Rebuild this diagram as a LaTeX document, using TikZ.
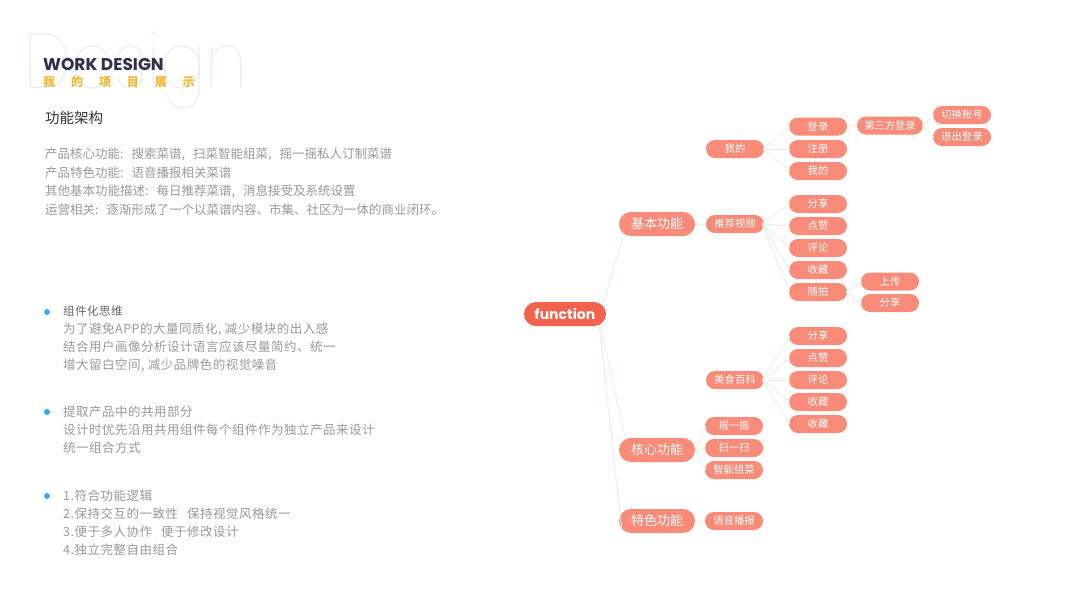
\documentclass[tikz,border=0pt]{standalone}
\usepackage{fontspec}
\newfontfamily\cjk{Noto Sans CJK SC}
\newfontfamily\cjksp{Noto Sans CJK SC}[LetterSpace=4]
\newfontfamily\pop{Poppins}
\IfFontExistsTF{Poppins Thin}{\newfontfamily\thinfont{Poppins Thin}}{\newfontfamily\thinfont{Poppins}}
\definecolor{salmon}{HTML}{F98B78}
\definecolor{fnred}{HTML}{F2624C}
\definecolor{linkc}{HTML}{DDF3EE}
\definecolor{navy}{HTML}{2D3047}
\definecolor{gold}{HTML}{F6B62F}
\definecolor{bodyg}{HTML}{9A9A9A}
\definecolor{titleg}{HTML}{333333}
\definecolor{dotblue}{HTML}{3DA5F4}
\definecolor{ghost}{HTML}{E3F0FC}
\newcommand{\pc}{,\hspace{8pt}}
\newcommand{\pcol}{:\hspace{8pt}}
\tikzset{
  lvlone/.style={rounded corners=12pt, fill=salmon, minimum width=76pt, minimum height=24pt, text=white, font=\cjk\fontsize{13}{13}\selectfont, inner sep=0pt},
  leaf/.style={rounded corners=9pt, fill=salmon, minimum width=58pt, minimum height=18pt, text=white, font=\cjk\fontsize{10.3}{10.3}\selectfont, inner sep=0pt},
  link/.style={draw=linkc, line width=0.9pt},
  para/.style={anchor=west, inner sep=0pt, text=bodyg, font=\cjk\fontsize{12.5}{12.5}\selectfont},
  btext/.style={anchor=west, inner sep=0pt, text=bodyg, font=\cjksp\fontsize{12.5}{12.5}\selectfont},
  bhead/.style={anchor=west, inner sep=0pt, text=black!60, font=\cjksp\fontsize{11.5}{11.5}\selectfont},
  bdot/.style={circle, fill=dotblue, inner sep=0pt, minimum size=6pt},
}
\begin{document}
\begin{tikzpicture}[x=1pt,y=-1pt]
\useasboundingbox[fill=white] (0,0) rectangle (1067,600);
% header
\begin{scope}[shift={(24,88)}, xscale=0.87]
\node[anchor=base west, inner sep=0pt, text=ghost, transform shape, font=\thinfont\fontsize{78}{78}\selectfont] (ghostword) at (0,0) {Design};
\end{scope}
\node[anchor=base west, inner sep=0pt, text=navy, font=\pop\bfseries\fontsize{17}{17}\selectfont] (work) at (43,70.5) {WORK DESIGN};
\foreach \c [count=\i] in {我,的,项,目,展,示}{
  \node[anchor=west, inner sep=0pt, text=gold, font=\cjk\bfseries\fontsize{12}{12}\selectfont] (sub\i) at ({43+27.9*(\i-1)},82) {\c};
}
\node[anchor=west, inner sep=0pt, text=titleg, font=\cjk\fontsize{14.5}{14.5}\selectfont] (title) at (45,118) {功能架构};
\node[para] (p1) at (45,154) {产品核心功能\pcol 搜索菜谱\pc 扫菜智能组菜\pc 摇一摇私人订制菜谱};
\node[para] (p2) at (45,172.5) {产品特色功能\pcol 语音播报相关菜谱};
\node[para] (p3) at (45,191) {其他基本功能描述\pcol 每日推荐菜谱\pc 消息接受及系统设置};
\node[para] (p4) at (45,210) {运营相关\pcol 逐渐形成了一个以菜谱内容、市集、社区为一体的商业闭环。};
% bullets
\node[bdot] (d1) at (47,312) {};
\node[bhead] (b1h) at (63,311) {组件化思维};
\node[btext] (b1a) at (63,329) {为了避免APP的大量同质化, 减少模块的出入感};
\node[btext] (b1b) at (63,347) {结合用户画像分析设计语言应该尽量简约、统一};
\node[btext] (b1c) at (63,365) {增大留白空间, 减少品牌色的视觉噪音};
\node[bdot] (d2) at (47,412) {};
\node[btext] (b2h) at (63,412) {提取产品中的共用部分};
\node[btext] (b2a) at (63,430) {设计时优先沿用共用组件每个组件作为独立产品来设计};
\node[btext] (b2b) at (63,448) {统一组合方式};
\node[bdot] (d3) at (47,496) {};
\node[btext] (b3h) at (63,496) {1.符合功能逻辑};
\node[btext] (b3a) at (63,514) {2.保持交互的一致性\hspace{9pt}保持视觉风格统一};
\node[btext] (b3b) at (63,532) {3.便于多人协作\hspace{9pt}便于修改设计};
\node[btext] (b3c) at (63,550) {4.独立完整自由组合};
% mind map nodes
\node[rounded corners=12pt, fill=fnred, minimum width=82pt, minimum height=24pt, inner sep=0pt, text=white, font=\pop\bfseries\fontsize{14}{14}\selectfont] (fn) at (565,314) {function};
\node[lvlone] (jb) at (657,224) {基本功能};
\node[lvlone] (hx) at (657,450) {核心功能};
\node[lvlone] (ts) at (657,521) {特色功能};
\node[leaf] (wd) at (735,149) {我的};
\node[leaf] (tj) at (735,224) {推荐视频};
\node[leaf] (ms) at (735,380) {美食百科};
\node[leaf] (yy) at (734,426) {摇一摇};
\node[leaf] (ss) at (734,448) {扫一扫};
\node[leaf] (zn) at (734,470) {智能组菜};
\node[leaf] (yb) at (734,521) {语音播报};
\node[leaf] (dl) at (818,126.5) {登录};
\node[leaf] (zc) at (818,149) {注册};
\node[leaf] (wdb) at (818,171) {我的};
\node[leaf] (fxa) at (818,204) {分享};
\node[leaf] (dza) at (818,226) {点赞};
\node[leaf] (pla) at (818,248) {评论};
\node[leaf] (sca) at (818,270) {收藏};
\node[leaf] (sp) at (818,292) {随拍};
\node[leaf] (fxb) at (818,336) {分享};
\node[leaf] (dzb) at (818,358) {点赞};
\node[leaf] (plb) at (818,380) {评论};
\node[leaf] (scb) at (818,402) {收藏};
\node[leaf] (scc) at (818,424) {收藏};
\node[leaf, minimum width=66pt] (sf) at (890,125.5) {第三方登录};
\node[leaf] (up) at (890,281.5) {上传};
\node[leaf] (fxc) at (890,303) {分享};
\node[leaf] (qh) at (962,115) {切换账号};
\node[leaf] (tc) at (962,137) {退出登录};
% connectors
\path[link] ([xshift=-3pt,yshift=-1pt]fn.north east) -- ([xshift=4pt,yshift=-2pt]jb.south west);
\path[link] ([xshift=-6pt,yshift=1pt]fn.south east) -- ([xshift=6pt,yshift=2pt]hx.north west);
\path[link] ([xshift=-7pt,yshift=1pt]fn.south east) -- ([xshift=3pt,yshift=-10pt]ts.west);
\path[link] (jb.east) -- (tj.west);
\foreach \c in {dl,zc,wdb}{\path[link] ([xshift=-1pt]wd.east) -- ([xshift=1pt]\c.west);}
\foreach \c in {fxa,dza,pla,sca,sp}{\path[link] ([xshift=-2pt]tj.east) -- ([xshift=1pt]\c.west);}
\foreach \c in {fxb,dzb,plb,scb,scc}{\path[link] ([xshift=-2pt]ms.east) -- ([xshift=1pt]\c.west);}
\foreach \c in {yy,ss,zn}{\path[link] (hx.east) -- ([xshift=1pt]\c.west);}
\path[link] (ts.east) -- (yb.west);
\path[link] (dl.east) -- (sf.west);
\foreach \c in {qh,tc}{\path[link] ([xshift=-1pt]sf.east) -- ([xshift=1pt]\c.west);}
\foreach \c in {up,fxc}{\path[link] ([xshift=-1pt]sp.east) -- ([xshift=1pt]\c.west);}
\end{tikzpicture}
\end{document}
